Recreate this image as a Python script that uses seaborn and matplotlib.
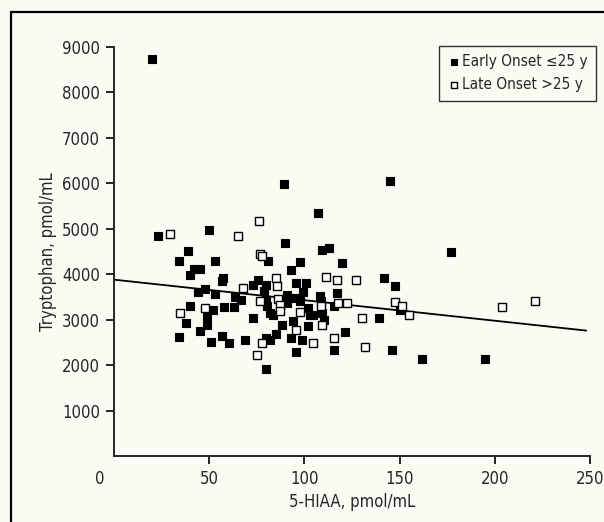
import numpy as np
import pandas as pd
import matplotlib
matplotlib.use("Agg")
import matplotlib.pyplot as plt
import matplotlib.transforms as mtransforms
from matplotlib.patches import Rectangle
import seaborn as sns

# Early onset (<=25 y): 5-HIAA, tryptophan
early_x = [19.8, 23, 34, 34, 38, 39, 40, 40, 42, 45, 44, 45, 48, 49, 49, 50, 51, 53, 52, 53,
           56.5, 57, 56.5, 58, 60.5, 63, 63.5, 66.5, 69, 73, 73, 75.5, 79, 80, 81, 80, 80.5, 80,
           80, 82, 82, 83.5, 85, 88, 89.4, 89.8, 90.6, 91, 93, 93, 94, 95.6, 95.6, 95.6, 97.5,
           97.7, 99, 99.5, 101, 101.7, 101.7, 103, 104.3, 107, 108, 108.9, 109, 110.4, 109.4,
           112.8, 115.4, 115.8, 117, 120, 121.5, 139, 141.6, 144.7, 146, 147.7, 150, 162, 177, 195]
early_y = [8740, 4840, 4280, 2620, 2930, 4510, 3300, 3990, 4120, 4120, 3600, 2760, 3680, 3080,
           2890, 4980, 2500, 3570, 3220, 4280, 3860, 3910, 2640, 3270, 2490, 3270, 3490, 3440,
           2550, 3040, 3760, 3880, 3630, 3770, 4280, 3440, 3300, 2600, 1920, 2550, 3150, 3110,
           2690, 2880, 5975, 4680, 3545, 3370, 4100, 2600, 2965, 3800, 3480, 2280, 4270, 3400,
           2560, 3600, 3810, 2855, 3260, 3110, 3110, 5340, 3530, 3400, 3140, 3000, 4540, 4570,
           2340, 3300, 3590, 4250, 2730, 3040, 3920, 6050, 2340, 3750, 3220, 2140, 4490, 2140]

# Late onset (>25 y)
late_x = [29.3, 34.7, 47.6, 65, 67.8, 75.9, 76.7, 77.5, 75, 77.5, 76.7, 85, 85.4, 86, 87, 87.4,
          95.6, 97.5, 104.7, 108.9, 109.4, 111.2, 115.4, 117, 117.8, 122.3, 127, 130, 132,
          147.7, 151, 155, 203.8, 221]
late_y = [4890, 3150, 3260, 4850, 3690, 5180, 4455, 4400, 2230, 2490, 3420, 3920, 3740, 3460,
          3330, 3200, 2780, 3160, 2490, 3300, 2890, 3930, 2600, 3880, 3370, 3370, 3870, 3040,
          2390, 3380, 3300, 3110, 3280, 3420]

# Fitted trend line (endpoints)
trend_x = [0, 248]
trend_y = [3880, 2760]

x_ticks = [0, 50, 100, 150, 200, 250]
y_ticks = [1000, 2000, 3000, 4000, 5000, 6000, 7000, 8000, 9000]

labels = ["Early Onset \u226425 y", "Late Onset >25 y"]

df = pd.DataFrame({
    "hiaa": early_x + late_x,
    "trp": early_y + late_y,
    "group": [labels[0]] * len(early_x) + [labels[1]] * len(late_x),
})

sns.set_style("ticks")
plt.rcParams["font.family"] = ["Liberation Sans Narrow", "DejaVu Sans"]
plt.rcParams["font.stretch"] = "condensed"

bg = "#fbfaf3"
fig = plt.figure(figsize=(6.04, 5.22), dpi=100, facecolor=bg)
ax = fig.add_axes([114 / 604, 1 - 456 / 522, (590 - 114) / 604, (456 - 47) / 522])
ax.set_facecolor(bg)

sns.lineplot(x=trend_x, y=trend_y, ax=ax, color="black", lw=1.3, zorder=1)
sns.scatterplot(data=df[df.group == labels[0]], x="hiaa", y="trp", ax=ax, marker="s",
                s=36, color="black", edgecolor="black", linewidth=0.8, label=labels[0], zorder=3)
sns.scatterplot(data=df[df.group == labels[1]], x="hiaa", y="trp", ax=ax, marker="s",
                s=36, color="white", edgecolor="black", linewidth=1.0, label=labels[1], zorder=3)

ax.set_xlim(0, 250)
ax.set_ylim(0, 9000)
ax.set_xticks(x_ticks)
ax.set_yticks(y_ticks)
ax.tick_params(axis="both", labelsize=12, length=6, width=1.2, color="black", pad=4)
for s in ["top", "right"]:
    ax.spines[s].set_visible(False)
for s in ["left", "bottom"]:
    ax.spines[s].set_linewidth(1.4)
ax.spines["left"].set_bounds(0, 9000)
ax.set_xlabel("5-HIAA, pmol/mL", fontsize=12)
ax.set_ylabel("Tryptophan, pmol/mL", fontsize=12)

# shift the "0" x label left of the origin as in the reference
offset = mtransforms.ScaledTranslation(-14 / 100, 0, fig.dpi_scale_trans)
lbl0 = ax.get_xticklabels()[0]
lbl0.set_transform(lbl0.get_transform() + offset)
ax.xaxis.get_major_ticks()[0].tick1line.set_visible(False)

leg = ax.legend(loc="upper right", bbox_to_anchor=(604 / 604, 1 - 38 / 522),
                bbox_transform=fig.transFigure, frameon=True, fancybox=False,
                fontsize=11, handletextpad=0.1, borderpad=0.55, labelspacing=0.55,
                handlelength=0.9, markerscale=0.75)
leg.get_frame().set_edgecolor("black")
leg.get_frame().set_linewidth(1.0)
leg.get_frame().set_facecolor(bg)

fig.patches.append(Rectangle((11 / 604, -0.02), 1.0, 1 - 12 / 522 + 0.02,
                             transform=fig.transFigure, fill=False,
                             edgecolor="black", linewidth=1.6))

fig.savefig("out.png", dpi=100, facecolor=bg)
